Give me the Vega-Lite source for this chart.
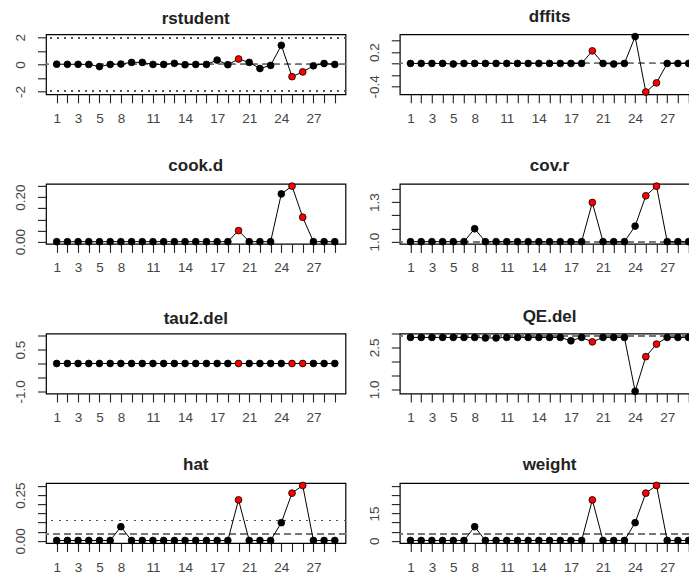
{
  "$schema": "https://vega.github.io/schema/vega-lite/v6.json",
  "autosize": {"type": "none"},
  "padding": {"left": 46, "top": 34.3, "right": 643, "bottom": 544.7},
  "background": "white",
  "bounds": "flush",
  "columns": 2,
  "spacing": {"row": 89.6, "column": 53.8},
  "datasets": {
    "infl": [
      {"i": 1, "study": "1", "rstudent": 0.02, "dffits": 0.0, "cook": 0.0, "covr": 1.0, "tau2": 0, "QE": 2.86, "hat": 0.0016, "weight": 0.16, "inf": "no"},
      {"i": 2, "study": "2", "rstudent": 0.01, "dffits": 0.0, "cook": 0.0, "covr": 1.0, "tau2": 0, "QE": 2.86, "hat": 0.0016, "weight": 0.16, "inf": "no"},
      {"i": 3, "study": "3", "rstudent": 0.01, "dffits": 0.0, "cook": 0.0, "covr": 1.0, "tau2": 0, "QE": 2.86, "hat": 0.0016, "weight": 0.16, "inf": "no"},
      {"i": 4, "study": "4", "rstudent": 0.0, "dffits": 0.0, "cook": 0.0, "covr": 1.0, "tau2": 0, "QE": 2.86, "hat": 0.0016, "weight": 0.16, "inf": "no"},
      {"i": 5, "study": "5", "rstudent": -0.16, "dffits": -0.01, "cook": 0.0, "covr": 1.0, "tau2": 0, "QE": 2.86, "hat": 0.0016, "weight": 0.16, "inf": "no"},
      {"i": 6, "study": "6", "rstudent": 0.0, "dffits": 0.0, "cook": 0.0, "covr": 1.0, "tau2": 0, "QE": 2.86, "hat": 0.0016, "weight": 0.16, "inf": "no"},
      {"i": 7, "study": "8", "rstudent": 0.03, "dffits": 0.0, "cook": 0.0, "covr": 1.098, "tau2": 0, "QE": 2.86, "hat": 0.077, "weight": 7.7, "inf": "no"},
      {"i": 8, "study": "9", "rstudent": 0.15, "dffits": 0.0, "cook": 0.0, "covr": 1.0, "tau2": 0, "QE": 2.84, "hat": 0.0016, "weight": 0.16, "inf": "no"},
      {"i": 9, "study": "10", "rstudent": 0.15, "dffits": 0.0, "cook": 0.0, "covr": 1.0, "tau2": 0, "QE": 2.84, "hat": 0.0016, "weight": 0.16, "inf": "no"},
      {"i": 10, "study": "11", "rstudent": 0.0, "dffits": 0.0, "cook": 0.0, "covr": 1.0, "tau2": 0, "QE": 2.86, "hat": 0.0016, "weight": 0.16, "inf": "no"},
      {"i": 11, "study": "12", "rstudent": 0.0, "dffits": 0.0, "cook": 0.0, "covr": 1.0, "tau2": 0, "QE": 2.86, "hat": 0.0016, "weight": 0.16, "inf": "no"},
      {"i": 12, "study": "13", "rstudent": 0.08, "dffits": 0.0, "cook": 0.0, "covr": 1.0, "tau2": 0, "QE": 2.86, "hat": 0.0016, "weight": 0.16, "inf": "no"},
      {"i": 13, "study": "14", "rstudent": -0.02, "dffits": 0.0, "cook": 0.0, "covr": 1.0, "tau2": 0, "QE": 2.86, "hat": 0.0016, "weight": 0.16, "inf": "no"},
      {"i": 14, "study": "15", "rstudent": 0.0, "dffits": 0.0, "cook": 0.0, "covr": 1.0, "tau2": 0, "QE": 2.86, "hat": 0.0016, "weight": 0.16, "inf": "no"},
      {"i": 15, "study": "16", "rstudent": 0.0, "dffits": 0.0, "cook": 0.0, "covr": 1.0, "tau2": 0, "QE": 2.86, "hat": 0.0016, "weight": 0.16, "inf": "no"},
      {"i": 16, "study": "17", "rstudent": 0.32, "dffits": 0.0, "cook": 0.0, "covr": 1.0, "tau2": 0, "QE": 2.74, "hat": 0.0016, "weight": 0.16, "inf": "no"},
      {"i": 17, "study": "18", "rstudent": -0.02, "dffits": 0.0, "cook": 0.0, "covr": 1.0, "tau2": 0, "QE": 2.86, "hat": 0.0016, "weight": 0.16, "inf": "no"},
      {"i": 18, "study": "19", "rstudent": 0.4, "dffits": 0.22, "cook": 0.05, "covr": 1.297, "tau2": 0, "QE": 2.7, "hat": 0.224, "weight": 22.4, "inf": "yes"},
      {"i": 19, "study": "21", "rstudent": 0.15, "dffits": 0.0, "cook": 0.0, "covr": 1.0, "tau2": 0, "QE": 2.86, "hat": 0.0016, "weight": 0.16, "inf": "no"},
      {"i": 20, "study": "22", "rstudent": -0.3, "dffits": -0.01, "cook": 0.0, "covr": 1.0, "tau2": 0, "QE": 2.86, "hat": 0.0016, "weight": 0.16, "inf": "no"},
      {"i": 21, "study": "23", "rstudent": -0.07, "dffits": 0.0, "cook": 0.0, "covr": 1.0, "tau2": 0, "QE": 2.86, "hat": 0.0016, "weight": 0.16, "inf": "no"},
      {"i": 22, "study": "24", "rstudent": 1.41, "dffits": 0.47, "cook": 0.215, "covr": 1.118, "tau2": 0, "QE": 0.93, "hat": 0.099, "weight": 9.9, "inf": "no"},
      {"i": 23, "study": "25", "rstudent": -0.9, "dffits": -0.5, "cook": 0.25, "covr": 1.348, "tau2": 0, "QE": 2.17, "hat": 0.261, "weight": 26.1, "inf": "yes"},
      {"i": 24, "study": "26", "rstudent": -0.55, "dffits": -0.34, "cook": 0.11, "covr": 1.421, "tau2": 0, "QE": 2.62, "hat": 0.303, "weight": 30.3, "inf": "yes"},
      {"i": 25, "study": "27", "rstudent": -0.1, "dffits": 0.0, "cook": 0.0, "covr": 1.0, "tau2": 0, "QE": 2.86, "hat": 0.0016, "weight": 0.16, "inf": "no"},
      {"i": 26, "study": "28", "rstudent": 0.07, "dffits": 0.0, "cook": 0.0, "covr": 1.0, "tau2": 0, "QE": 2.86, "hat": 0.0016, "weight": 0.16, "inf": "no"},
      {"i": 27, "study": "29", "rstudent": 0.0, "dffits": 0.0, "cook": 0.0, "covr": 1.0, "tau2": 0, "QE": 2.86, "hat": 0.0016, "weight": 0.16, "inf": "no"}
    ]
  },
  "data": {"name": "infl"},
  "concat": [
    {
      "title": "rstudent", "width": 299.5, "height": 60,
      "resolve": {"axis": {"y": "independent"}},
      "layer": [
        {"mark": {"type": "rule", "color": "#555", "strokeDash": [1.5, 5.5], "strokeWidth": 1}, "encoding": {"y": {"datum": 1.96, "axis": null}}},
        {"mark": {"type": "rule", "color": "#555", "strokeDash": [1.5, 5.5], "strokeWidth": 1}, "encoding": {"y": {"datum": -1.96, "axis": null}}},
        {"mark": {"type": "rule", "color": "#777", "strokeDash": [6, 5], "strokeWidth": 1}, "encoding": {"y": {"datum": 0, "axis": null}}},
        {
          "encoding": {
            "x": {"field": "study", "type": "ordinal", "sort": null, "scale": {"type": "point", "padding": 1.04}, "axis": {"title": null, "labelAngle": 0, "labelOverlap": false, "labelExpr": "indexof(['1','3','5','8','11','14','17','21','24','27'], datum.label) >= 0 ? datum.label : ''"}},
            "y": {"field": "rstudent", "type": "quantitative", "scale": {"domain": [-2.2, 2.22], "nice": false, "zero": false}, "axis": {"title": null, "labelOverlap": false, "values": [-2, -1, 0, 1, 2], "labelExpr": "abs(datum.value) < 1e-6 || abs(abs(datum.value) - 2) < 1e-6 ? (datum.value < -1e-6 ? '-' : '') + format(abs(datum.value), 'd') : ''"}}
          },
          "layer": [
            {"mark": {"type": "line", "color": "black", "strokeWidth": 1}},
            {"mark": {"type": "point", "filled": true, "size": 46, "stroke": "black", "strokeWidth": 0.8, "opacity": 1},
             "encoding": {"fill": {"field": "inf", "type": "nominal", "scale": {"domain": ["no", "yes"], "range": ["black", "#ff0000"]}, "legend": null}}}
          ]
        }
      ]
    },
    {
      "title": "dffits", "width": 299.5, "height": 60,
      "resolve": {"axis": {"y": "independent"}},
      "layer": [
        {"mark": {"type": "rule", "color": "#777", "strokeDash": [6, 5], "strokeWidth": 1}, "encoding": {"y": {"datum": 0, "axis": null}}},
        {
          "encoding": {
            "x": {"field": "study", "type": "ordinal", "sort": null, "scale": {"type": "point", "padding": 1.04}, "axis": {"title": null, "labelAngle": 0, "labelOverlap": false, "labelExpr": "indexof(['1','3','5','8','11','14','17','21','24','27'], datum.label) >= 0 ? datum.label : ''"}},
            "y": {"field": "dffits", "type": "quantitative", "scale": {"domain": [-0.54, 0.51], "nice": false, "zero": false}, "axis": {"title": null, "labelOverlap": false, "values": [-0.4, -0.2, 0, 0.2, 0.4], "labelExpr": "abs(datum.value + 0.4) < 1e-6 ? '-0.4' : (abs(datum.value - 0.2) < 1e-6 ? '0.2' : '')"}}
          },
          "layer": [
            {"mark": {"type": "line", "color": "black", "strokeWidth": 1}},
            {"mark": {"type": "point", "filled": true, "size": 46, "stroke": "black", "strokeWidth": 0.8, "opacity": 1},
             "encoding": {"fill": {"field": "inf", "type": "nominal", "scale": {"domain": ["no", "yes"], "range": ["black", "#ff0000"]}, "legend": null}}}
          ]
        }
      ]
    },
    {
      "title": "cook.d", "width": 299.5, "height": 60,
      "layer": [
        {
          "encoding": {
            "x": {"field": "study", "type": "ordinal", "sort": null, "scale": {"type": "point", "padding": 1.04}, "axis": {"title": null, "labelAngle": 0, "labelOverlap": false, "labelExpr": "indexof(['1','3','5','8','11','14','17','21','24','27'], datum.label) >= 0 ? datum.label : ''"}},
            "y": {"field": "cook", "type": "quantitative", "scale": {"domain": [-0.01, 0.26], "nice": false, "zero": false}, "axis": {"title": null, "labelOverlap": false, "values": [0, 0.05, 0.1, 0.15, 0.2, 0.25], "labelExpr": "abs(datum.value) < 1e-6 ? '0.00' : (abs(datum.value - 0.2) < 1e-6 ? '0.20' : '')"}}
          },
          "layer": [
            {"mark": {"type": "line", "color": "black", "strokeWidth": 1}},
            {"mark": {"type": "point", "filled": true, "size": 46, "stroke": "black", "strokeWidth": 0.8, "opacity": 1},
             "encoding": {"fill": {"field": "inf", "type": "nominal", "scale": {"domain": ["no", "yes"], "range": ["black", "#ff0000"]}, "legend": null}}}
          ]
        }
      ]
    },
    {
      "title": "cov.r", "width": 299.5, "height": 60,
      "resolve": {"axis": {"y": "independent"}},
      "layer": [
        {"mark": {"type": "rule", "color": "#777", "strokeDash": [6, 5], "strokeWidth": 1}, "encoding": {"y": {"datum": 1, "axis": null}}},
        {
          "encoding": {
            "x": {"field": "study", "type": "ordinal", "sort": null, "scale": {"type": "point", "padding": 1.04}, "axis": {"title": null, "labelAngle": 0, "labelOverlap": false, "labelExpr": "indexof(['1','3','5','8','11','14','17','21','24','27'], datum.label) >= 0 ? datum.label : ''"}},
            "y": {"field": "covr", "type": "quantitative", "scale": {"domain": [0.983, 1.438], "nice": false, "zero": false}, "axis": {"title": null, "labelOverlap": false, "values": [1, 1.1, 1.2, 1.3, 1.4], "labelExpr": "abs(datum.value - 1) < 1e-6 ? '1.0' : (abs(datum.value - 1.3) < 1e-6 ? '1.3' : '')"}}
          },
          "layer": [
            {"mark": {"type": "line", "color": "black", "strokeWidth": 1}},
            {"mark": {"type": "point", "filled": true, "size": 46, "stroke": "black", "strokeWidth": 0.8, "opacity": 1},
             "encoding": {"fill": {"field": "inf", "type": "nominal", "scale": {"domain": ["no", "yes"], "range": ["black", "#ff0000"]}, "legend": null}}}
          ]
        }
      ]
    },
    {
      "title": "tau2.del", "width": 299.5, "height": 60,
      "layer": [
        {
          "encoding": {
            "x": {"field": "study", "type": "ordinal", "sort": null, "scale": {"type": "point", "padding": 1.04}, "axis": {"title": null, "labelAngle": 0, "labelOverlap": false, "labelExpr": "indexof(['1','3','5','8','11','14','17','21','24','27'], datum.label) >= 0 ? datum.label : ''"}},
            "y": {"field": "tau2", "type": "quantitative", "scale": {"domain": [-1.08, 1.08], "nice": false, "zero": false}, "axis": {"title": null, "labelOverlap": false, "values": [-1, -0.5, 0, 0.5, 1], "labelExpr": "abs(datum.value + 1) < 1e-6 ? '-1.0' : (abs(datum.value - 0.5) < 1e-6 ? '0.5' : '')"}}
          },
          "layer": [
            {"mark": {"type": "line", "color": "black", "strokeWidth": 1}},
            {"mark": {"type": "point", "filled": true, "size": 46, "stroke": "black", "strokeWidth": 0.8, "opacity": 1},
             "encoding": {"fill": {"field": "inf", "type": "nominal", "scale": {"domain": ["no", "yes"], "range": ["black", "#ff0000"]}, "legend": null}}}
          ]
        }
      ]
    },
    {
      "title": "QE.del", "width": 299.5, "height": 60,
      "resolve": {"axis": {"y": "independent"}},
      "layer": [
        {"mark": {"type": "rule", "color": "#777", "strokeDash": [6, 5], "strokeWidth": 1}, "encoding": {"y": {"datum": 2.91, "axis": null}}},
        {
          "encoding": {
            "x": {"field": "study", "type": "ordinal", "sort": null, "scale": {"type": "point", "padding": 1.04}, "axis": {"title": null, "labelAngle": 0, "labelOverlap": false, "labelExpr": "indexof(['1','3','5','8','11','14','17','21','24','27'], datum.label) >= 0 ? datum.label : ''"}},
            "y": {"field": "QE", "type": "quantitative", "scale": {"domain": [0.85, 3.0], "nice": false, "zero": false}, "axis": {"title": null, "labelOverlap": false, "values": [1, 1.5, 2, 2.5, 3], "labelExpr": "abs(datum.value - 1) < 1e-6 ? '1.0' : (abs(datum.value - 2.5) < 1e-6 ? '2.5' : '')"}}
          },
          "layer": [
            {"mark": {"type": "line", "color": "black", "strokeWidth": 1}},
            {"mark": {"type": "point", "filled": true, "size": 46, "stroke": "black", "strokeWidth": 0.8, "opacity": 1},
             "encoding": {"fill": {"field": "inf", "type": "nominal", "scale": {"domain": ["no", "yes"], "range": ["black", "#ff0000"]}, "legend": null}}}
          ]
        }
      ]
    },
    {
      "title": "hat", "width": 299.5, "height": 60,
      "resolve": {"axis": {"y": "independent"}},
      "layer": [
        {"mark": {"type": "rule", "color": "#555", "strokeDash": [1.5, 6], "strokeWidth": 1}, "encoding": {"y": {"datum": 0.111, "axis": null}}},
        {"mark": {"type": "rule", "color": "#777", "strokeDash": [6, 5], "strokeWidth": 1}, "encoding": {"y": {"datum": 0.037, "axis": null}}},
        {
          "encoding": {
            "x": {"field": "study", "type": "ordinal", "sort": null, "scale": {"type": "point", "padding": 1.04}, "axis": {"title": null, "labelAngle": 0, "labelOverlap": false, "labelExpr": "indexof(['1','3','5','8','11','14','17','21','24','27'], datum.label) >= 0 ? datum.label : ''"}},
            "y": {"field": "hat", "type": "quantitative", "scale": {"domain": [-0.0128, 0.316], "nice": false, "zero": false}, "axis": {"title": null, "labelOverlap": false, "values": [0, 0.05, 0.1, 0.15, 0.2, 0.25, 0.3], "labelExpr": "abs(datum.value) < 1e-6 ? '0.00' : (abs(datum.value - 0.25) < 1e-6 ? '0.25' : '')"}}
          },
          "layer": [
            {"mark": {"type": "line", "color": "black", "strokeWidth": 1}},
            {"mark": {"type": "point", "filled": true, "size": 46, "stroke": "black", "strokeWidth": 0.8, "opacity": 1},
             "encoding": {"fill": {"field": "inf", "type": "nominal", "scale": {"domain": ["no", "yes"], "range": ["black", "#ff0000"]}, "legend": null}}}
          ]
        }
      ]
    },
    {
      "title": "weight", "width": 299.5, "height": 60,
      "resolve": {"axis": {"y": "independent"}},
      "layer": [
        {"mark": {"type": "rule", "color": "#777", "strokeDash": [6, 5], "strokeWidth": 1}, "encoding": {"y": {"datum": 3.7, "axis": null}}},
        {
          "encoding": {
            "x": {"field": "study", "type": "ordinal", "sort": null, "scale": {"type": "point", "padding": 1.04}, "axis": {"title": null, "labelAngle": 0, "labelOverlap": false, "labelExpr": "indexof(['1','3','5','8','11','14','17','21','24','27'], datum.label) >= 0 ? datum.label : ''"}},
            "y": {"field": "weight", "type": "quantitative", "scale": {"domain": [-1.28, 31.6], "nice": false, "zero": false}, "axis": {"title": null, "labelOverlap": false, "values": [0, 5, 10, 15, 20, 25, 30], "labelExpr": "abs(datum.value) < 1e-6 ? '0' : (abs(datum.value - 15) < 1e-6 ? '15' : '')"}}
          },
          "layer": [
            {"mark": {"type": "line", "color": "black", "strokeWidth": 1}},
            {"mark": {"type": "point", "filled": true, "size": 46, "stroke": "black", "strokeWidth": 0.8, "opacity": 1},
             "encoding": {"fill": {"field": "inf", "type": "nominal", "scale": {"domain": ["no", "yes"], "range": ["black", "#ff0000"]}, "legend": null}}}
          ]
        }
      ]
    }
  ],
  "config": {
    "view": {"stroke": "black", "strokeWidth": 1.2},
    "axis": {"grid": false, "domain": false, "labelOverlap": false, "labelFont": "Liberation Sans", "labelFontSize": 13.5, "labelColor": "#444", "tickColor": "#222", "tickSize": 8.5, "tickWidth": 1.1},
    "axisX": {"labelAngle": 0, "labelBaseline": "middle", "labelAlign": "center", "labelPadding": 15.5},
    "axisY": {"labelAngle": -90, "labelAlign": "center", "labelBaseline": "middle", "labelPadding": 16.8, "labelOverlap": false},
    "title": {"font": "Liberation Sans", "fontSize": 17, "fontWeight": "bold", "color": "#222", "offset": 6, "anchor": "middle", "frame": "group"}
  }
}
